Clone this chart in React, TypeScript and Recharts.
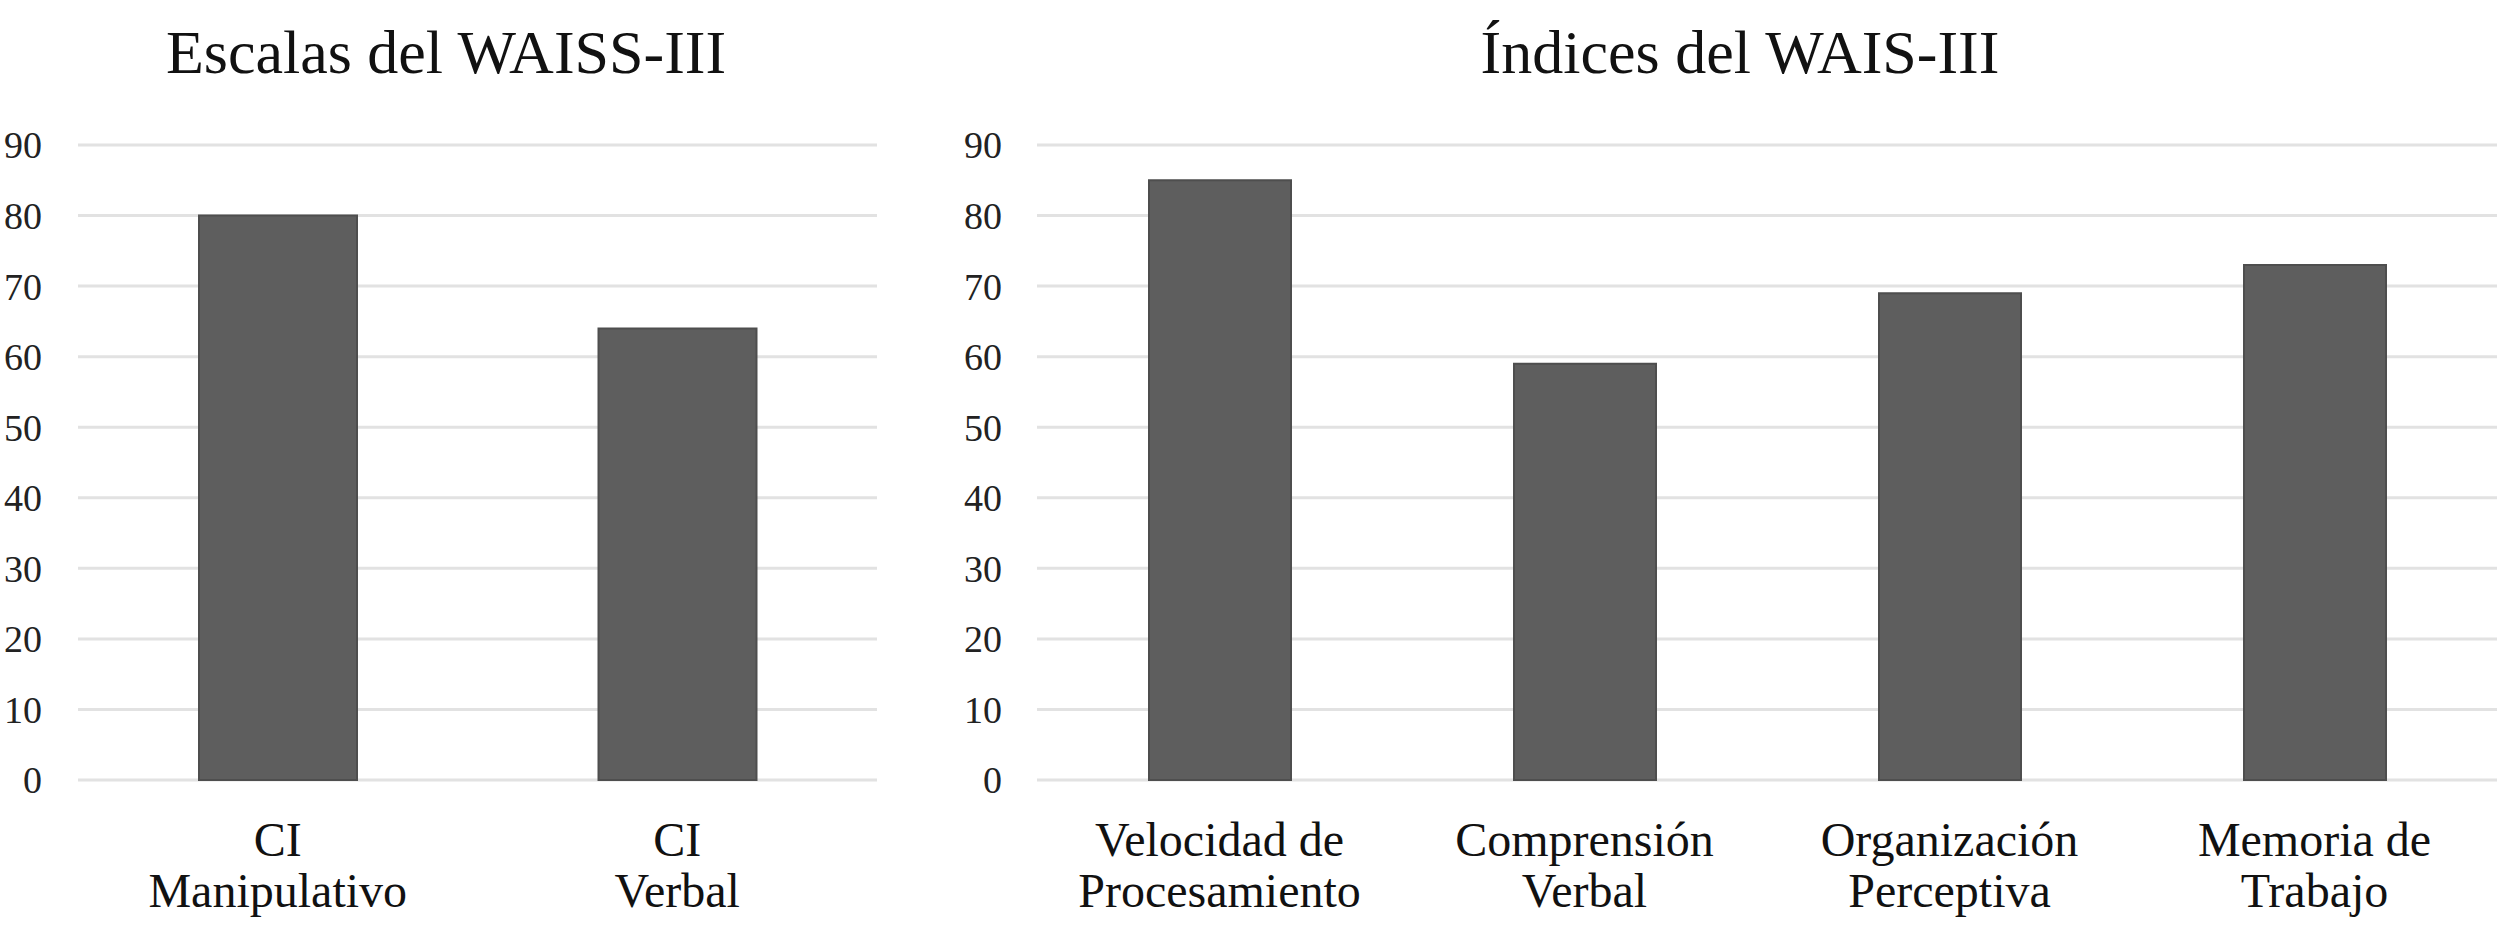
import { Bar, BarChart, CartesianGrid, XAxis, YAxis } from "recharts";

const escalasCategories = ["CI\nManipulativo", "CI\nVerbal"];
const escalasValues = [80, 64];

const indicesCategories = [
  "Velocidad de\nProcesamiento",
  "Comprensión\nVerbal",
  "Organización\nPerceptiva",
  "Memoria de\nTrabajo",
];
const indicesValues = [85, 59, 69, 73];

const yTicks = [0, 10, 20, 30, 40, 50, 60, 70, 80, 90];

const FONT = "'Liberation Serif', 'Times New Roman', serif";
const BAR_FILL = "#5e5e5e";
const BAR_EDGE = "#4e4e4e";
const GRID = "#e2e2e2";

function CategoryTick(props: any) {
  const { x, y, payload } = props;
  const lines = String(payload.value).split("\n");
  return (
    <text x={x} y={y} textAnchor="middle" fontFamily={FONT} fontSize={48} fill="#111">
      {lines.map((line, i) => (
        <tspan key={i} x={x} dy={i === 0 ? 76 : 51}>
          {line}
        </tspan>
      ))}
    </text>
  );
}

type PanelProps = {
  categories: string[];
  values: number[];
  width: number;
  axisWidth: number;
  rightMargin: number;
  barSize: number;
  tickGap: number;
};

function Panel({ categories, values, width, axisWidth, rightMargin, barSize, tickGap }: PanelProps) {
  const data = categories.map((name, i) => ({ name, value: values[i] }));
  return (
    <BarChart
      width={width}
      height={937}
      data={data}
      margin={{ top: 145, right: rightMargin, bottom: 0, left: 0 }}
    >
      <CartesianGrid vertical={false} stroke={GRID} strokeWidth={3} />
      <XAxis
        dataKey="name"
        axisLine={false}
        tickLine={false}
        tickSize={0}
        tickMargin={0}
        height={157}
        interval={0}
        tick={<CategoryTick />}
      />
      <YAxis
        domain={[0, 90]}
        ticks={yTicks}
        axisLine={false}
        tickLine={false}
        tickSize={0}
        tickMargin={tickGap}
        width={axisWidth}
        tick={{ fill: "#222", fontSize: 38, fontFamily: FONT }}
      />
      <Bar
        dataKey="value"
        fill={BAR_FILL}
        stroke={BAR_EDGE}
        strokeWidth={2}
        barSize={barSize}
        isAnimationActive={false}
      />
    </BarChart>
  );
}

const titleStyle = {
  position: "absolute" as const,
  top: 21,
  fontFamily: FONT,
  fontSize: 62,
  lineHeight: "62px",
  color: "#111",
  textAlign: "center" as const,
  whiteSpace: "nowrap" as const,
};

export default function App() {
  return (
    <div
      style={{
        position: "absolute",
        left: 0,
        top: 0,
        width: 2500,
        height: 937,
        background: "#fff",
        overflow: "hidden",
      }}
    >
      <div style={{ position: "absolute", left: 0, top: 0 }}>
        <Panel
          categories={escalasCategories}
          values={escalasValues}
          width={900}
          axisWidth={78}
          rightMargin={23}
          barSize={158}
          tickGap={36}
        />
      </div>
      <div style={{ position: "absolute", left: 900, top: 0 }}>
        <Panel
          categories={indicesCategories}
          values={indicesValues}
          width={1600}
          axisWidth={137}
          rightMargin={3}
          barSize={142}
          tickGap={35}
        />
      </div>
      <div style={{ ...titleStyle, left: 0, width: 892 }}>Escalas del WAISS-III</div>
      <div style={{ ...titleStyle, left: 980, width: 1520 }}>Índices del WAIS-III</div>
    </div>
  );
}
